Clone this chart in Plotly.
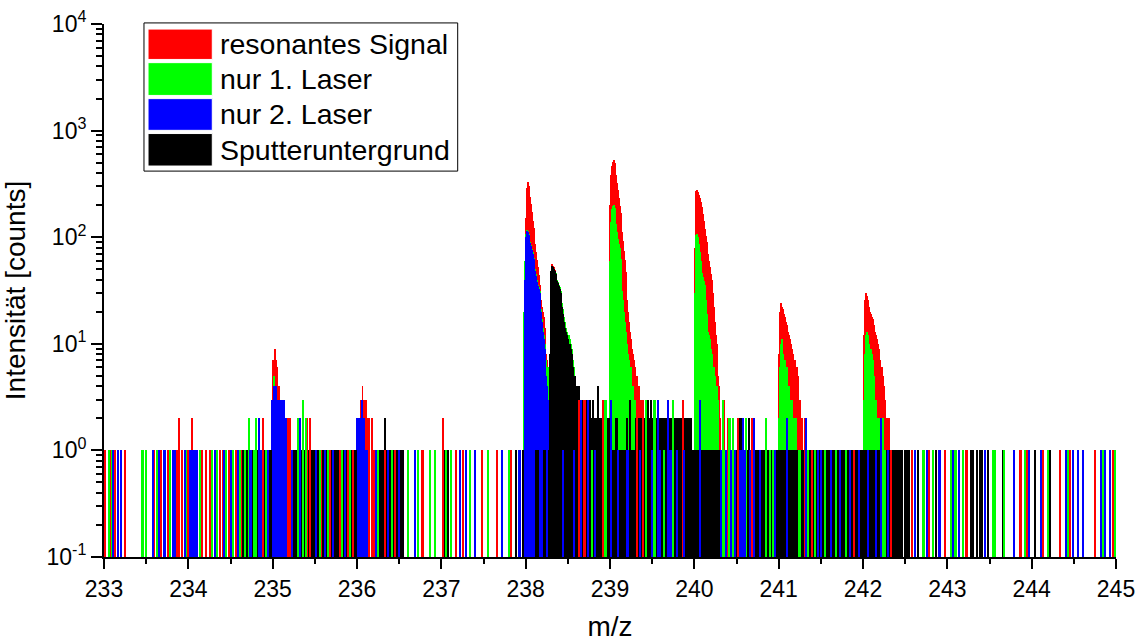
import plotly.graph_objects as go

# ----------------------------------------------------------------------------
# DATA  (counts per 0.01 amu bin)
# ----------------------------------------------------------------------------
BIN = 0.01

series_names = ["resonantes Signal", "nur 1. Laser", "nur 2. Laser", "Sputteruntergrund"]
series_colors = ["#FF0000", "#00FF00", "#0000FF", "#000000"]

# --- resonantes Signal (red): peak profiles (bin centre of first bin, counts) ---
red_peak_start = [234.995, 236.045, 237.995, 238.295, 239.005, 240.005, 241.005, 242.015]
red_peak_counts = [
    [3, 7, 7, 9, 7, 6, 6, 4, 4, 3, 2, 3, 2, 2],
    [3, 3, 4, 3, 3, 2, 3, 2],
    [2, 150, 290, 327, 305, 262, 236, 205, 172, 142, 123, 104, 86, 72, 61, 52, 44, 36, 30, 26,
     22, 20, 18, 14, 10, 8, 7, 6, 6, 5],
    [25, 45, 56, 54, 52, 49, 46, 43, 40, 38, 36, 34, 31, 27, 23, 20, 17, 15, 14, 13, 12, 12, 11,
     10, 9, 8, 7, 6, 5, 5, 4, 4, 3],
    [200, 380, 470, 510, 525, 500, 445, 385, 325, 275, 232, 197, 167, 136, 112, 92, 75, 61, 47,
     35, 26, 20, 16, 13, 11, 10, 9, 8, 7, 6, 5, 5, 4, 4, 4, 3, 3],
    [80, 230, 270, 280, 265, 250, 232, 215, 202, 190, 166, 142, 120, 102, 90, 80, 70, 60, 52, 45,
     40, 37, 30, 22, 16, 12, 10, 7, 5, 4, 2],
    [8, 20, 24, 22, 20, 21, 19, 18, 16, 15, 14, 13, 12, 11, 10, 9, 8, 8, 7, 7, 6, 6, 5, 4, 3, 3, 2, 2],
    [12, 26, 30, 28, 26, 24, 22, 20, 19, 18, 17, 15, 14, 13, 12, 11, 10, 9, 8, 7, 6, 6, 5, 4, 3,
     3, 2, 2, 1, 2],
]
red_mz_count1 = [233.02, 233.08, 233.13, 233.25, 233.47, 233.60, 233.68, 233.76, 233.87, 233.93,
                 234.00, 234.16, 234.21, 234.26, 234.38, 234.41, 234.49, 234.57, 234.63, 235.58,
                 235.68, 235.80, 235.90, 235.96, 236.21, 236.33, 236.45, 236.78, 237.18, 237.26,
                 237.48, 237.66, 237.83, 241.40, 241.90, 242.33, 242.58, 242.79, 242.97, 243.11,
                 243.23, 243.87, 243.95, 244.14, 244.34, 244.46, 244.75, 244.97]
red_mz_count2 = [233.89, 234.05, 234.89, 235.19, 235.21, 235.41, 235.45, 236.14, 236.18, 237.02,
                 239.32, 240.40, 240.52, 240.69, 241.31]
red_mz_count3 = [238.63, 238.70, 238.92, 239.39, 239.87, 240.35]

# --- nur 1. Laser (green) ---
green_peak_start = [235.005, 237.985, 238.295, 239.005, 240.005, 241.005, 242.015]
green_peak_counts = [
    [3, 5, 4, 3, 2],
    [20, 60, 108, 118, 114, 107, 98, 90, 84, 78, 72, 64, 57, 50, 45, 40, 36, 34, 31, 26, 21, 17,
     14, 12, 10, 8, 7, 6, 6, 5],
    [20, 42, 52, 52, 50, 48, 46, 43, 40, 38, 36, 34, 31, 28, 24, 21, 18, 16, 14, 13, 13, 12, 12,
     11, 10, 9, 8, 7, 6, 5, 4, 4, 3],
    [60, 140, 182, 196, 200, 188, 160, 132, 112, 96, 86, 80, 62, 42, 31, 26, 20, 16, 13, 11, 10,
     8, 7, 6, 6, 5, 4, 4, 3, 3, 2],
    [30, 90, 105, 108, 100, 86, 72, 60, 52, 46, 42, 39, 36, 26, 19, 15, 13, 12, 11, 9, 8, 7, 6,
     6, 5, 4, 4, 3, 3],
    [2, 6, 10, 11, 9, 8, 7, 7, 6, 6, 5, 4, 4, 3, 3, 3, 2, 2, 2, 1, 2],
    [3, 8, 12, 13, 12, 11, 10, 9, 9, 8, 7, 5, 4, 3, 3, 2, 2, 2, 1, 2],
]
green_mz_count1 = [233.06, 233.10, 233.46, 233.50, 233.63, 233.79, 233.98, 234.14, 234.28, 234.34,
                   234.45, 234.53, 234.61, 234.68, 234.78, 234.92, 235.56, 235.66, 235.82, 235.92,
                   236.25, 236.42, 236.61, 236.73, 236.87, 236.93, 237.06, 237.12, 237.22, 237.34,
                   237.56, 237.81, 238.79, 239.64, 240.37, 240.90, 240.94, 241.25, 241.35, 241.43,
                   241.55, 241.68, 241.80, 242.26, 242.72, 242.83, 243.05, 243.10, 243.19, 243.54,
                   243.57, 243.68, 243.92, 244.20, 244.43, 244.85, 244.99]
green_mz_count2 = [234.72, 234.80, 235.30, 235.40, 240.42, 240.46, 240.62, 240.85, 242.24]
green_mz_count3 = [235.36, 238.95, 239.43, 239.53, 239.75, 240.34]

# --- nur 2. Laser (blue) ---
blue_peak_start = [234.995, 235.995, 237.995]
blue_peak_counts = [
    [3, 3, 4, 4, 4, 4, 3, 3, 3, 3, 3, 3, 3, 3, 3, 2, 2, 2, 2, 2],
    [2, 2, 2, 2, 2, 2, 3, 3, 2, 2, 1, 1, 1],
    [40, 100, 115, 112, 105, 96, 88, 82, 76, 70, 62, 55, 48, 43, 38, 35, 33, 30, 25, 20, 16, 13,
     11, 9, 7, 5, 4, 3],
]
blue_mz_count1 = [233.11, 233.17, 233.20, 233.58, 233.66, 233.72, 233.82, 233.85, 233.96, 234.02,
                  234.04, 234.05, 234.06, 234.07, 234.08, 234.09, 234.10, 234.11, 234.32, 234.43,
                  234.51, 234.59, 234.74, 234.86, 234.95, 235.23, 235.52, 235.62, 235.72, 235.86,
                  236.23, 236.37, 236.50, 236.69, 237.22, 237.30, 237.40, 237.72, 237.93, 238.26,
                  238.45, 238.58, 238.83, 239.10, 239.21, 239.36, 239.50, 239.60, 239.72, 239.80,
                  239.88, 240.32, 240.38, 240.44, 240.49, 240.55, 240.60, 240.66, 240.78, 240.96,
                  241.47, 241.51, 241.62, 241.73, 241.85, 241.96, 242.06, 242.16, 242.30, 242.62,
                  242.76, 242.91, 243.07, 243.14, 243.45, 243.79, 243.97, 244.11, 244.41, 244.49,
                  244.55, 244.61, 244.82, 244.87, 244.93]
blue_mz_count2 = [234.84, 235.33, 240.58, 240.71, 241.10, 241.33, 242.22]
blue_mz_count3 = [238.66, 238.74, 239.02, 239.57, 239.69, 240.07]

# --- Sputteruntergrund (black) ---
black_peak_start = [238.285]
black_peak_counts = [
    [8, 30, 48, 54, 53, 50, 48, 45, 42, 39, 37, 35, 33, 30, 26, 22, 19, 16, 14, 13, 12, 11, 11,
     10, 10, 9, 8, 7, 6, 5, 5, 4, 4, 4, 3, 4, 3, 3, 3, 2],
]
# continuous stretches of constant count
black_block_from = [234.64, 235.185, 236.29, 238.205, 238.675, 239.295]
black_block_to = [234.99, 236.00, 236.56, 242.36, 238.995, 239.97]
black_block_count = [1, 1, 1, 1, 2, 2]
black_mz_count1 = [236.27, 236.78, 237.05, 237.08, 237.48, 237.89, 237.97, 238.13, 238.15, 242.37,
                   242.39, 242.41, 242.43, 242.45, 242.47, 242.50, 242.53, 242.55, 242.66, 242.87,
                   243.28, 243.31, 243.35, 243.39, 243.41, 243.48, 243.66, 243.87, 244.04, 244.22]
black_mz_count2 = [236.34, 239.08, 239.20, 240.55, 240.65]
black_mz_count3 = [238.72, 238.76, 238.80, 239.24, 239.45, 239.49]
black_mz_count4 = [238.86]

# ----------------------------------------------------------------------------
PEAK_W = 0.0112   # bar width of a profile bin (slightly > BIN, no gaps)
LINE_W = 0.019    # bar width of isolated bins
FONT = "Arial, Liberation Sans, sans-serif"


def expand(starts, counts):
    xs, ys = [], []
    for s, cs in zip(starts, counts):
        for i, c in enumerate(cs):
            xs.append(round(s + i * BIN, 4))
            ys.append(c)
    return xs, ys


def lines(*groups):
    xs, ys = [], []
    for level, mz in groups:
        xs += mz
        ys += [level] * len(mz)
    return xs, ys


fig = go.Figure()


def add_bars(x, y, color, width, name):
    fig.add_trace(go.Bar(x=x, y=y, width=width, name=name, marker_color=color,
                         marker_line_width=0, opacity=1, showlegend=False,
                         hovertemplate="m/z %{x}<br>%{y} counts<extra>" + name + "</extra>"))


rx, ry = expand(red_peak_start, red_peak_counts)
gx, gy = expand(green_peak_start, green_peak_counts)
bx, by = expand(blue_peak_start, blue_peak_counts)
kx, ky = expand(black_peak_start, black_peak_counts)

add_bars(rx, ry, series_colors[0], PEAK_W, series_names[0])
add_bars(gx, gy, series_colors[1], PEAK_W, series_names[1])
add_bars(bx, by, series_colors[2], PEAK_W, series_names[2])

# black background stretches
blk_x = [(a + b) / 2 for a, b in zip(black_block_from, black_block_to)]
blk_w = [b - a for a, b in zip(black_block_from, black_block_to)]
add_bars(blk_x, black_block_count, series_colors[3], blk_w, series_names[3])
add_bars(kx, ky, series_colors[3], PEAK_W, series_names[3])
x, y = lines((1, black_mz_count1), (2, black_mz_count2), (3, black_mz_count3), (4, black_mz_count4))
add_bars(x, y, series_colors[3], LINE_W, series_names[3])

x, y = lines((1, red_mz_count1), (2, red_mz_count2), (3, red_mz_count3))
add_bars(x, y, series_colors[0], LINE_W, series_names[0])
x, y = lines((1, green_mz_count1), (2, green_mz_count2), (3, green_mz_count3))
add_bars(x, y, series_colors[1], LINE_W, series_names[1])
x, y = lines((1, blue_mz_count1), (2, blue_mz_count2), (3, blue_mz_count3))
add_bars(x, y, series_colors[2], LINE_W, series_names[2])

# ----------------------------------------------------------------------------
# custom legend (large colour patches, as in the reference)
# ----------------------------------------------------------------------------
leg_x0, leg_x1, leg_y0, leg_y1 = 0.0395, 0.3495, 0.724, 1.002
patch_x0, patch_x1 = 0.0435, 0.1070
row_top = [0.9935, 0.9305, 0.8630, 0.7975]
row_bot = [0.9305, 0.8630, 0.7975, 0.7305]
shapes = [dict(type="rect", xref="paper", yref="paper", x0=leg_x0, x1=leg_x1, y0=leg_y0,
               y1=leg_y1, line=dict(color="black", width=1), fillcolor="white", layer="above")]
annotations = []
for i, (nm, col) in enumerate(zip(series_names, series_colors)):
    shapes.append(dict(type="rect", xref="paper", yref="paper", x0=patch_x0, x1=patch_x1,
                       y0=row_bot[i] + 0.003, y1=row_top[i] - 0.003,
                       line=dict(color="white", width=1), fillcolor=col, layer="above"))
    annotations.append(dict(xref="paper", yref="paper", x=0.1125,
                            y=(row_top[i] + row_bot[i]) / 2, text=nm, showarrow=False,
                            xanchor="left", yanchor="middle",
                            font=dict(family=FONT, size=28.5, color="black")))

major = [0.1, 1, 10, 100, 1000, 10000]
major_text = ["10<sup>-1</sup>", "10<sup>0</sup>", "10<sup>1</sup>", "10<sup>2</sup>",
              "10<sup>3</sup>", "10<sup>4</sup>"]
minor_vals = [m * k for m in major[:-1] for k in range(2, 10)]

fig.update_layout(
    width=1144, height=642,
    margin=dict(l=104, r=28, t=24, b=85),
    paper_bgcolor="white", plot_bgcolor="white",
    barmode="overlay", bargap=0,
    font=dict(family=FONT, color="black"),
    shapes=shapes, annotations=annotations,
    showlegend=False,
    xaxis=dict(
        range=[233, 245], tick0=233, dtick=1, ticks="outside", ticklen=10, tickwidth=2,
        tickcolor="black", showline=True, linecolor="black", linewidth=2, showgrid=False,
        zeroline=False, tickfont=dict(size=23), automargin=False,
        minor=dict(dtick=0.5, tick0=233, ticks="outside", ticklen=5, tickwidth=2,
                   tickcolor="black", showgrid=False),
        title=dict(text="m/z", font=dict(size=28), standoff=18),
    ),
    yaxis=dict(
        type="log", range=[-1, 4], tickmode="array", tickvals=major, ticktext=major_text,
        ticks="outside", ticklen=11, tickwidth=2, tickcolor="black", showline=True,
        linecolor="black", linewidth=2, showgrid=False, zeroline=False,
        tickfont=dict(size=23), automargin=False,
        minor=dict(tickmode="array", tickvals=minor_vals, ticks="outside", ticklen=6,
                   tickwidth=1.5, tickcolor="black", showgrid=False),
        title=dict(text="Intensität [counts]", font=dict(size=28), standoff=15),
    ),
)

# remove the browser's default 8px page margin so the figure sits at (0, 0)
fig.write_html("out.html", config={"displayModeBar": False},
               post_script="document.body.style.margin='0px';document.body.style.padding='0px';")
